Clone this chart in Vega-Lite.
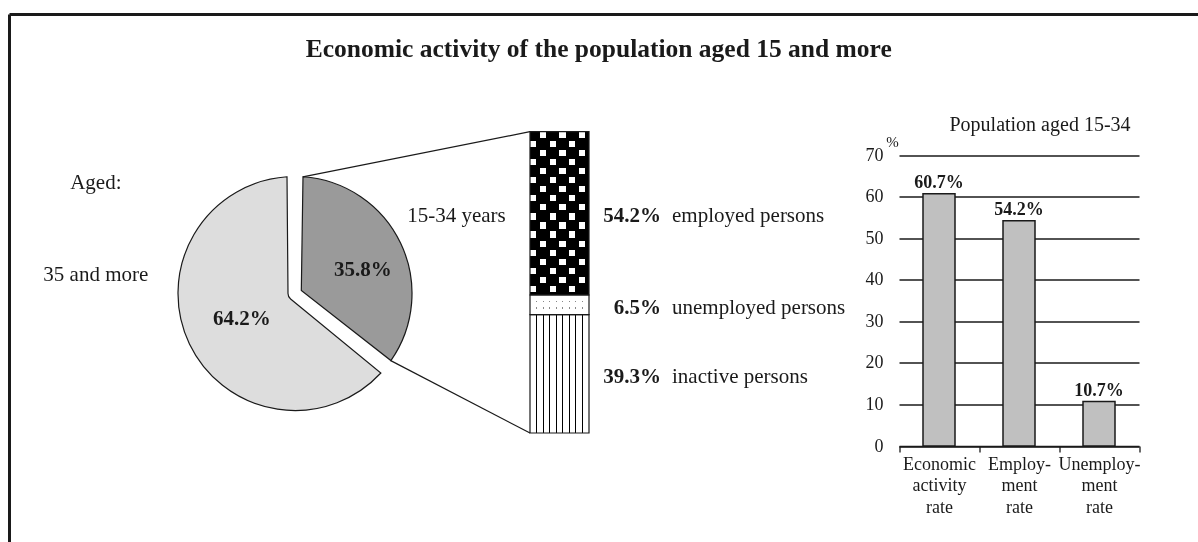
{
  "$schema": "https://vega.github.io/schema/vega-lite/v6.json",
  "width": 1188.5,
  "height": 527.5,
  "autosize": {"type": "none"},
  "padding": {"left": 9.5, "top": 14.5, "right": 0, "bottom": 0},
  "background": "white",
  "title": {
    "text": "Economic activity of the population aged 15 and more",
    "font": "Liberation Serif",
    "fontSize": 25.5,
    "fontWeight": "bold",
    "color": "#1a1a1a",
    "anchor": "middle",
    "frame": "group",
    "offset": -48,
    "dx": -5
  },
  "datasets": {
    "pie": [
      {"population": "Population aged 15 and more", "age": "15-34 years", "share": 0.358},
      {"population": "Population aged 15 and more", "age": "35 and more", "share": 0.642}
    ],
    "breakdown": [
      {"group": "15-34 years", "status": "employed persons", "share": 0.542, "rank": 3},
      {"group": "15-34 years", "status": "unemployed persons", "share": 0.065, "rank": 2},
      {"group": "15-34 years", "status": "inactive persons", "share": 0.393, "rank": 1}
    ],
    "rates": [
      {"indicator": "Economic activity rate", "value": 60.7},
      {"indicator": "Employment rate", "value": 54.2},
      {"indicator": "Unemployment rate", "value": 10.7}
    ]
  },
  "config": {
    "view": {"stroke": "#1a1a1a", "strokeWidth": 3, "strokeDash": [1188.5, 1716, 527.5, 0]},
    "font": "Liberation Serif",
    "text": {"font": "Liberation Serif", "fontSize": 21, "color": "#1a1a1a"}
  },
  "resolve": {
    "scale": {"x": "independent", "y": "independent", "theta": "independent", "fill": "independent"},
    "axis": {"x": "independent", "y": "independent"}
  },
  "layer": [
    {
      "data": {"name": "pie"},
      "transform": [
        {"stack": "share", "groupby": [], "sort": [{"field": "age", "order": "ascending"}], "as": ["s0", "s1"]},
        {"calculate": "(datum.s0 + datum.s1) / 2", "as": "mid"}
      ],
      "layer": [
        {
          "mark": {"type": "arc", "outerRadius": 117, "innerRadius": 7, "padAngle": 0.1365, "stroke": "#1a1a1a", "strokeWidth": 1.2},
          "encoding": {
            "x": {"field": "population", "type": "nominal", "scale": {"type": "band", "range": [167.5, 403.5], "paddingInner": 0, "paddingOuter": 0}, "axis": null},
            "y": {"field": "population", "type": "nominal", "scale": {"type": "band", "range": [161, 397], "paddingInner": 0, "paddingOuter": 0}, "axis": null},
            "theta": {"field": "s0", "type": "quantitative", "scale": {"domain": [0, 1], "range": [0, 6.283185307179586]}},
            "theta2": {"field": "s1"},
            "fill": {"field": "age", "type": "nominal", "scale": {"domain": ["15-34 years", "35 and more"], "range": ["#9a9a9a", "#dddddd"]}, "legend": null}
          }
        },
        {
          "transform": [{"filter": "datum.age == '15-34 years'"}],
          "mark": {"type": "text", "radius": 72, "thetaOffset": 0.11, "fontWeight": "bold"},
          "encoding": {
            "x": {"field": "population", "type": "nominal", "axis": null},
            "y": {"field": "population", "type": "nominal", "axis": null},
            "theta": {"field": "mid", "type": "quantitative", "stack": null},
            "text": {"field": "share", "type": "quantitative", "format": ".1%"}
          }
        },
        {
          "transform": [{"filter": "datum.age == '35 and more'"}],
          "mark": {"type": "text", "radius": 59, "fontWeight": "bold"},
          "encoding": {
            "x": {"field": "population", "type": "nominal", "axis": null},
            "y": {"field": "population", "type": "nominal", "axis": null},
            "theta": {"field": "mid", "type": "quantitative", "stack": null},
            "text": {"field": "share", "type": "quantitative", "format": ".1%"}
          }
        },
        {
          "transform": [{"filter": "datum.age == '15-34 years'"}],
          "mark": {"type": "text", "radius": 179},
          "encoding": {
            "x": {"field": "population", "type": "nominal", "axis": null},
            "y": {"field": "population", "type": "nominal", "axis": null},
            "theta": {"field": "mid", "type": "quantitative", "stack": null},
            "text": {"field": "age"}
          }
        },
        {
          "transform": [{"filter": "datum.age == '35 and more'"}],
          "mark": {"type": "text", "radius": 200, "thetaOffset": 0.5367},
          "encoding": {
            "x": {"field": "population", "type": "nominal", "axis": null},
            "y": {"field": "population", "type": "nominal", "axis": null},
            "theta": {"field": "mid", "type": "quantitative", "stack": null},
            "text": {"field": "age"}
          }
        },
        {
          "transform": [{"filter": "datum.age == '35 and more'"}],
          "mark": {"type": "text", "radius": 200, "thetaOffset": 0.5367, "dy": -92, "text": "Aged:"},
          "encoding": {
            "x": {"field": "population", "type": "nominal", "axis": null},
            "y": {"field": "population", "type": "nominal", "axis": null},
            "theta": {"field": "mid", "type": "quantitative", "stack": null}
          }
        }
      ]
    },
    {
      "data": {"name": "breakdown"},
      "transform": [
        {"stack": "share", "groupby": [], "sort": [{"field": "rank", "order": "ascending"}], "as": ["y0", "y1"]},
        {"calculate": "(datum.y0 + datum.y1) / 2", "as": "mid"}
      ],
      "layer": [
        {
          "transform": [{"filter": "datum.status == 'inactive persons'"}],
          "mark": {"type": "rect", "fill": {"gradient": "linear", "x1": 0, "y1": 0, "x2": 1, "y2": 0, "stops": [
            {"offset": 0, "color": "#fff"}, {"offset": 0.1026, "color": "#fff"}, {"offset": 0.1026, "color": "#000"}, {"offset": 0.1196, "color": "#000"},
            {"offset": 0.1196, "color": "#fff"}, {"offset": 0.2137, "color": "#fff"}, {"offset": 0.2137, "color": "#000"}, {"offset": 0.2307, "color": "#000"},
            {"offset": 0.2307, "color": "#fff"}, {"offset": 0.3248, "color": "#fff"}, {"offset": 0.3248, "color": "#000"}, {"offset": 0.3418, "color": "#000"},
            {"offset": 0.3418, "color": "#fff"}, {"offset": 0.4359, "color": "#fff"}, {"offset": 0.4359, "color": "#000"}, {"offset": 0.4529, "color": "#000"},
            {"offset": 0.4529, "color": "#fff"}, {"offset": 0.5471, "color": "#fff"}, {"offset": 0.5471, "color": "#000"}, {"offset": 0.5641, "color": "#000"},
            {"offset": 0.5641, "color": "#fff"}, {"offset": 0.6582, "color": "#fff"}, {"offset": 0.6582, "color": "#000"}, {"offset": 0.6752, "color": "#000"},
            {"offset": 0.6752, "color": "#fff"}, {"offset": 0.7693, "color": "#fff"}, {"offset": 0.7693, "color": "#000"}, {"offset": 0.7863, "color": "#000"},
            {"offset": 0.7863, "color": "#fff"}, {"offset": 0.8804, "color": "#fff"}, {"offset": 0.8804, "color": "#000"}, {"offset": 0.8974, "color": "#000"},
            {"offset": 0.8974, "color": "#fff"}, {"offset": 1, "color": "#fff"}
          ]}},
          "encoding": {
            "x": {"datum": 0, "type": "quantitative", "scale": {"domain": [0, 1], "range": [520.5, 579.5], "nice": false, "zero": false}, "axis": null},
            "x2": {"datum": 1},
            "y": {"field": "y0", "type": "quantitative", "scale": {"domain": [0, 1], "range": [418.5, 117.2], "nice": false, "zero": false}, "axis": null},
            "y2": {"field": "y1"}
          }
        },
        {
          "transform": [{"filter": "datum.status == 'unemployed persons'"}],
          "mark": {"type": "rect", "fill": {"gradient": "linear", "x1": 0, "y1": 0, "x2": 1, "y2": 0, "stops": [
            {"offset": 0, "color": "#fff"}, {"offset": 0.104, "color": "#fff"}, {"offset": 0.104, "color": "#888"}, {"offset": 0.118, "color": "#888"},
            {"offset": 0.118, "color": "#fff"}, {"offset": 0.215, "color": "#fff"}, {"offset": 0.215, "color": "#888"}, {"offset": 0.229, "color": "#888"},
            {"offset": 0.229, "color": "#fff"}, {"offset": 0.326, "color": "#fff"}, {"offset": 0.326, "color": "#888"}, {"offset": 0.34, "color": "#888"},
            {"offset": 0.34, "color": "#fff"}, {"offset": 0.437, "color": "#fff"}, {"offset": 0.437, "color": "#888"}, {"offset": 0.451, "color": "#888"},
            {"offset": 0.451, "color": "#fff"}, {"offset": 0.549, "color": "#fff"}, {"offset": 0.549, "color": "#888"}, {"offset": 0.563, "color": "#888"},
            {"offset": 0.563, "color": "#fff"}, {"offset": 0.66, "color": "#fff"}, {"offset": 0.66, "color": "#888"}, {"offset": 0.674, "color": "#888"},
            {"offset": 0.674, "color": "#fff"}, {"offset": 0.771, "color": "#fff"}, {"offset": 0.771, "color": "#888"}, {"offset": 0.785, "color": "#888"},
            {"offset": 0.785, "color": "#fff"}, {"offset": 0.882, "color": "#fff"}, {"offset": 0.882, "color": "#888"}, {"offset": 0.896, "color": "#888"},
            {"offset": 0.896, "color": "#fff"}, {"offset": 1, "color": "#fff"}
          ]}},
          "encoding": {
            "x": {"datum": 0, "type": "quantitative", "axis": null},
            "x2": {"datum": 1},
            "y": {"field": "y0", "type": "quantitative", "axis": null},
            "y2": {"field": "y1"}
          }
        },
        {
          "transform": [{"filter": "datum.status == 'unemployed persons'"}],
          "mark": {"type": "rect", "fill": {"gradient": "linear", "x1": 0, "y1": 0, "x2": 0, "y2": 1, "stops": [
            {"offset": 0, "color": "#fff"}, {"offset": 0.3, "color": "#fff"}, {"offset": 0.3, "color": "rgba(255,255,255,0)"}, {"offset": 0.38, "color": "rgba(255,255,255,0)"},
            {"offset": 0.38, "color": "#fff"}, {"offset": 0.62, "color": "#fff"}, {"offset": 0.62, "color": "rgba(255,255,255,0)"}, {"offset": 0.7, "color": "rgba(255,255,255,0)"},
            {"offset": 0.7, "color": "#fff"}, {"offset": 1, "color": "#fff"}
          ]}},
          "encoding": {
            "x": {"datum": 0, "type": "quantitative", "axis": null},
            "x2": {"datum": 1},
            "y": {"field": "y0", "type": "quantitative", "axis": null},
            "y2": {"field": "y1"}
          }
        },
        {
          "transform": [{"filter": "datum.status == 'employed persons'"}],
          "mark": {"type": "rect", "fill": {"gradient": "linear", "x1": 0, "y1": 0, "x2": 0, "y2": 1, "stops": [
            {"offset": 0, "color": "#fff"}, {"offset": 0.0378, "color": "#fff"}, {"offset": 0.0378, "color": "#000"}, {"offset": 0.1111, "color": "#000"},
            {"offset": 0.1111, "color": "#fff"}, {"offset": 0.1489, "color": "#fff"}, {"offset": 0.1489, "color": "#000"}, {"offset": 0.2222, "color": "#000"},
            {"offset": 0.2222, "color": "#fff"}, {"offset": 0.26, "color": "#fff"}, {"offset": 0.26, "color": "#000"}, {"offset": 0.3333, "color": "#000"},
            {"offset": 0.3333, "color": "#fff"}, {"offset": 0.3711, "color": "#fff"}, {"offset": 0.3711, "color": "#000"}, {"offset": 0.4444, "color": "#000"},
            {"offset": 0.4444, "color": "#fff"}, {"offset": 0.4822, "color": "#fff"}, {"offset": 0.4822, "color": "#000"}, {"offset": 0.5556, "color": "#000"},
            {"offset": 0.5556, "color": "#fff"}, {"offset": 0.5933, "color": "#fff"}, {"offset": 0.5933, "color": "#000"}, {"offset": 0.6667, "color": "#000"},
            {"offset": 0.6667, "color": "#fff"}, {"offset": 0.7044, "color": "#fff"}, {"offset": 0.7044, "color": "#000"}, {"offset": 0.7778, "color": "#000"},
            {"offset": 0.7778, "color": "#fff"}, {"offset": 0.8156, "color": "#fff"}, {"offset": 0.8156, "color": "#000"}, {"offset": 0.8889, "color": "#000"},
            {"offset": 0.8889, "color": "#fff"}, {"offset": 0.9267, "color": "#fff"}, {"offset": 0.9267, "color": "#000"}, {"offset": 1, "color": "#000"}
          ]}},
          "encoding": {
            "x": {"datum": 0, "type": "quantitative", "axis": null},
            "x2": {"datum": 1},
            "y": {"field": "y0", "type": "quantitative", "axis": null},
            "y2": {"field": "y1"}
          }
        },
        {
          "transform": [{"filter": "datum.status == 'employed persons'"}],
          "mark": {"type": "rect", "blend": "difference", "fill": {"gradient": "linear", "x1": 0, "y1": 0, "x2": 1, "y2": 0, "stops": [
            {"offset": 0, "color": "#fff"}, {"offset": 0.1033, "color": "#fff"}, {"offset": 0.1033, "color": "rgba(255,255,255,0)"}, {"offset": 0.3333, "color": "rgba(255,255,255,0)"},
            {"offset": 0.3333, "color": "#fff"}, {"offset": 0.4367, "color": "#fff"}, {"offset": 0.4367, "color": "rgba(255,255,255,0)"}, {"offset": 0.6667, "color": "rgba(255,255,255,0)"},
            {"offset": 0.6667, "color": "#fff"}, {"offset": 0.77, "color": "#fff"}, {"offset": 0.77, "color": "rgba(255,255,255,0)"}, {"offset": 1, "color": "rgba(255,255,255,0)"}
          ]}},
          "encoding": {
            "x": {"datum": 0, "type": "quantitative", "axis": null},
            "x2": {"datum": 1},
            "y": {"field": "y0", "type": "quantitative", "axis": null},
            "y2": {"field": "y1"}
          }
        },
        {
          "transform": [{"filter": "datum.status == 'employed persons'"}],
          "mark": {"type": "rect", "fill": {"gradient": "linear", "x1": 0, "y1": 0, "x2": 1, "y2": 0, "stops": [
            {"offset": 0, "color": "rgba(0,0,0,0)"}, {"offset": 0.1033, "color": "rgba(0,0,0,0)"}, {"offset": 0.1033, "color": "#000"}, {"offset": 0.1667, "color": "#000"},
            {"offset": 0.1667, "color": "rgba(0,0,0,0)"}, {"offset": 0.27, "color": "rgba(0,0,0,0)"}, {"offset": 0.27, "color": "#000"}, {"offset": 0.3333, "color": "#000"},
            {"offset": 0.3333, "color": "rgba(0,0,0,0)"}, {"offset": 0.4367, "color": "rgba(0,0,0,0)"}, {"offset": 0.4367, "color": "#000"}, {"offset": 0.5, "color": "#000"},
            {"offset": 0.5, "color": "rgba(0,0,0,0)"}, {"offset": 0.6033, "color": "rgba(0,0,0,0)"}, {"offset": 0.6033, "color": "#000"}, {"offset": 0.6667, "color": "#000"},
            {"offset": 0.6667, "color": "rgba(0,0,0,0)"}, {"offset": 0.77, "color": "rgba(0,0,0,0)"}, {"offset": 0.77, "color": "#000"}, {"offset": 0.8333, "color": "#000"},
            {"offset": 0.8333, "color": "rgba(0,0,0,0)"}, {"offset": 0.9367, "color": "rgba(0,0,0,0)"}, {"offset": 0.9367, "color": "#000"}, {"offset": 1, "color": "#000"}
          ]}},
          "encoding": {
            "x": {"datum": 0, "type": "quantitative", "axis": null},
            "x2": {"datum": 1},
            "y": {"field": "y0", "type": "quantitative", "axis": null},
            "y2": {"field": "y1"}
          }
        },
        {
          "transform": [{"filter": "datum.status == 'employed persons'"}],
          "mark": {"type": "rect", "fill": {"gradient": "linear", "x1": 0, "y1": 0, "x2": 0, "y2": 1, "stops": [
            {"offset": 0, "color": "rgba(0,0,0,0)"}, {"offset": 0.0378, "color": "rgba(0,0,0,0)"}, {"offset": 0.0378, "color": "#000"}, {"offset": 0.0556, "color": "#000"},
            {"offset": 0.0556, "color": "rgba(0,0,0,0)"}, {"offset": 0.0933, "color": "rgba(0,0,0,0)"}, {"offset": 0.0933, "color": "#000"}, {"offset": 0.1111, "color": "#000"},
            {"offset": 0.1111, "color": "rgba(0,0,0,0)"}, {"offset": 0.1489, "color": "rgba(0,0,0,0)"}, {"offset": 0.1489, "color": "#000"}, {"offset": 0.1667, "color": "#000"},
            {"offset": 0.1667, "color": "rgba(0,0,0,0)"}, {"offset": 0.2044, "color": "rgba(0,0,0,0)"}, {"offset": 0.2044, "color": "#000"}, {"offset": 0.2222, "color": "#000"},
            {"offset": 0.2222, "color": "rgba(0,0,0,0)"}, {"offset": 0.26, "color": "rgba(0,0,0,0)"}, {"offset": 0.26, "color": "#000"}, {"offset": 0.2778, "color": "#000"},
            {"offset": 0.2778, "color": "rgba(0,0,0,0)"}, {"offset": 0.3156, "color": "rgba(0,0,0,0)"}, {"offset": 0.3156, "color": "#000"}, {"offset": 0.3333, "color": "#000"},
            {"offset": 0.3333, "color": "rgba(0,0,0,0)"}, {"offset": 0.3711, "color": "rgba(0,0,0,0)"}, {"offset": 0.3711, "color": "#000"}, {"offset": 0.3889, "color": "#000"},
            {"offset": 0.3889, "color": "rgba(0,0,0,0)"}, {"offset": 0.4267, "color": "rgba(0,0,0,0)"}, {"offset": 0.4267, "color": "#000"}, {"offset": 0.4444, "color": "#000"},
            {"offset": 0.4444, "color": "rgba(0,0,0,0)"}, {"offset": 0.4822, "color": "rgba(0,0,0,0)"}, {"offset": 0.4822, "color": "#000"}, {"offset": 0.5, "color": "#000"},
            {"offset": 0.5, "color": "rgba(0,0,0,0)"}, {"offset": 0.5378, "color": "rgba(0,0,0,0)"}, {"offset": 0.5378, "color": "#000"}, {"offset": 0.5556, "color": "#000"},
            {"offset": 0.5556, "color": "rgba(0,0,0,0)"}, {"offset": 0.5933, "color": "rgba(0,0,0,0)"}, {"offset": 0.5933, "color": "#000"}, {"offset": 0.6111, "color": "#000"},
            {"offset": 0.6111, "color": "rgba(0,0,0,0)"}, {"offset": 0.6489, "color": "rgba(0,0,0,0)"}, {"offset": 0.6489, "color": "#000"}, {"offset": 0.6667, "color": "#000"},
            {"offset": 0.6667, "color": "rgba(0,0,0,0)"}, {"offset": 0.7044, "color": "rgba(0,0,0,0)"}, {"offset": 0.7044, "color": "#000"}, {"offset": 0.7222, "color": "#000"},
            {"offset": 0.7222, "color": "rgba(0,0,0,0)"}, {"offset": 0.76, "color": "rgba(0,0,0,0)"}, {"offset": 0.76, "color": "#000"}, {"offset": 0.7778, "color": "#000"},
            {"offset": 0.7778, "color": "rgba(0,0,0,0)"}, {"offset": 0.8156, "color": "rgba(0,0,0,0)"}, {"offset": 0.8156, "color": "#000"}, {"offset": 0.8333, "color": "#000"},
            {"offset": 0.8333, "color": "rgba(0,0,0,0)"}, {"offset": 0.8711, "color": "rgba(0,0,0,0)"}, {"offset": 0.8711, "color": "#000"}, {"offset": 0.8889, "color": "#000"},
            {"offset": 0.8889, "color": "rgba(0,0,0,0)"}, {"offset": 0.9267, "color": "rgba(0,0,0,0)"}, {"offset": 0.9267, "color": "#000"}, {"offset": 0.9444, "color": "#000"},
            {"offset": 0.9444, "color": "rgba(0,0,0,0)"}, {"offset": 0.9822, "color": "rgba(0,0,0,0)"}, {"offset": 0.9822, "color": "#000"}, {"offset": 1, "color": "#000"}
          ]}},
          "encoding": {
            "x": {"datum": 0, "type": "quantitative", "axis": null},
            "x2": {"datum": 1},
            "y": {"field": "y0", "type": "quantitative", "axis": null},
            "y2": {"field": "y1"}
          }
        },
        {
          "mark": {"type": "rect", "fill": "transparent", "stroke": "#1a1a1a", "strokeWidth": 1.2},
          "encoding": {
            "x": {"datum": 0, "type": "quantitative", "axis": null},
            "x2": {"datum": 1},
            "y": {"field": "y0", "type": "quantitative", "axis": null},
            "y2": {"field": "y1"}
          }
        },
        {
          "data": {"values": [{"connector": "top"}]},
          "mark": {"type": "rule", "stroke": "#1a1a1a", "strokeWidth": 1.2},
          "encoding": {
            "x": {"datum": -3.85, "type": "quantitative", "axis": null},
            "x2": {"datum": 0},
            "y": {"datum": 0.8503, "type": "quantitative", "axis": null},
            "y2": {"datum": 1}
          }
        },
        {
          "data": {"values": [{"connector": "bottom"}]},
          "mark": {"type": "rule", "stroke": "#1a1a1a", "strokeWidth": 1.2},
          "encoding": {
            "x": {"datum": -2.36, "type": "quantitative", "axis": null},
            "x2": {"datum": 0},
            "y": {"datum": 0.2403, "type": "quantitative", "axis": null},
            "y2": {"datum": 0}
          }
        },
        {
          "mark": {"type": "text", "align": "right", "baseline": "middle", "dx": 72, "dy": 3, "fontWeight": "bold"},
          "encoding": {
            "x": {"datum": 1, "type": "quantitative", "axis": null},
            "y": {"field": "mid", "type": "quantitative", "axis": null},
            "text": {"field": "share", "type": "quantitative", "format": ".1%"}
          }
        },
        {
          "mark": {"type": "text", "align": "left", "baseline": "middle", "dx": 83, "dy": 3},
          "encoding": {
            "x": {"datum": 1, "type": "quantitative", "axis": null},
            "y": {"field": "mid", "type": "quantitative", "axis": null},
            "text": {"field": "status"}
          }
        }
      ]
    },
    {
      "data": {"name": "rates"},
      "layer": [
        {
          "mark": {"type": "bar", "fill": "#c0c0c0", "stroke": "#1a1a1a", "strokeWidth": 1.5, "width": {"band": 0.4}},
          "encoding": {
            "x": {
              "field": "indicator", "type": "nominal", "sort": null,
              "scale": {"type": "band", "range": [889.5, 1129.5], "paddingInner": 0, "paddingOuter": 0},
              "axis": {
                "orient": "bottom", "offset": -96, "title": null,
                "domain": true, "domainColor": "#1a1a1a", "domainWidth": 1.5,
                "ticks": true, "tickBand": "extent", "tickSize": 6, "tickColor": "#1a1a1a", "tickWidth": 1.3,
                "labelAngle": 0, "labelFont": "Liberation Serif", "labelFontSize": 18, "labelColor": "#1a1a1a",
                "labelLineHeight": 21.5, "labelPadding": 3, "labelOverlap": false, "labelLimit": 0,
                "labelExpr": "datum.value == 'Economic activity rate' ? ['Economic', 'activity', 'rate'] : datum.value == 'Employment rate' ? ['Employ-', 'ment', 'rate'] : datum.value == 'Unemployment rate' ? ['Unemploy-', 'ment', 'rate'] : ''"
              }
            },
            "y": {
              "field": "value", "type": "quantitative",
              "scale": {"domain": [0, 70], "range": [431.5, 140.5], "nice": false, "zero": true},
              "axis": {
                "orient": "left", "offset": -889.5, "values": [0, 10, 20, 30, 40, 50, 60, 70],
                "domain": false, "ticks": false, "tickSize": 0, "labelPadding": 16,
                "labelFont": "Liberation Serif", "labelFontSize": 18, "labelColor": "#1a1a1a",
                "grid": true, "gridColor": "#1a1a1a", "gridWidth": 1.3, "gridOpacity": 1,
                "title": "%", "titleAngle": 0, "titleX": -7, "titleY": 126.5,
                "titleFont": "Liberation Serif", "titleFontSize": 15, "titleFontWeight": "normal",
                "titleColor": "#1a1a1a", "titleAlign": "center", "titleBaseline": "middle"
              }
            }
          }
        },
        {
          "transform": [{"calculate": "format(datum.value, '.1f') + '%'", "as": "label"}],
          "mark": {"type": "text", "fontWeight": "bold", "fontSize": 18, "baseline": "alphabetic", "dy": -6},
          "encoding": {
            "x": {"field": "indicator", "type": "nominal", "sort": null},
            "y": {"field": "value", "type": "quantitative"},
            "text": {"field": "label"}
          }
        },
        {
          "transform": [{"filter": "datum.indicator == 'Employment rate'"}],
          "mark": {"type": "text", "fontSize": 20, "dx": 21, "dy": -30, "text": "Population aged 15-34"},
          "encoding": {
            "x": {"field": "indicator", "type": "nominal", "sort": null},
            "y": {"datum": 70, "type": "quantitative"}
          }
        }
      ]
    }
  ]
}
